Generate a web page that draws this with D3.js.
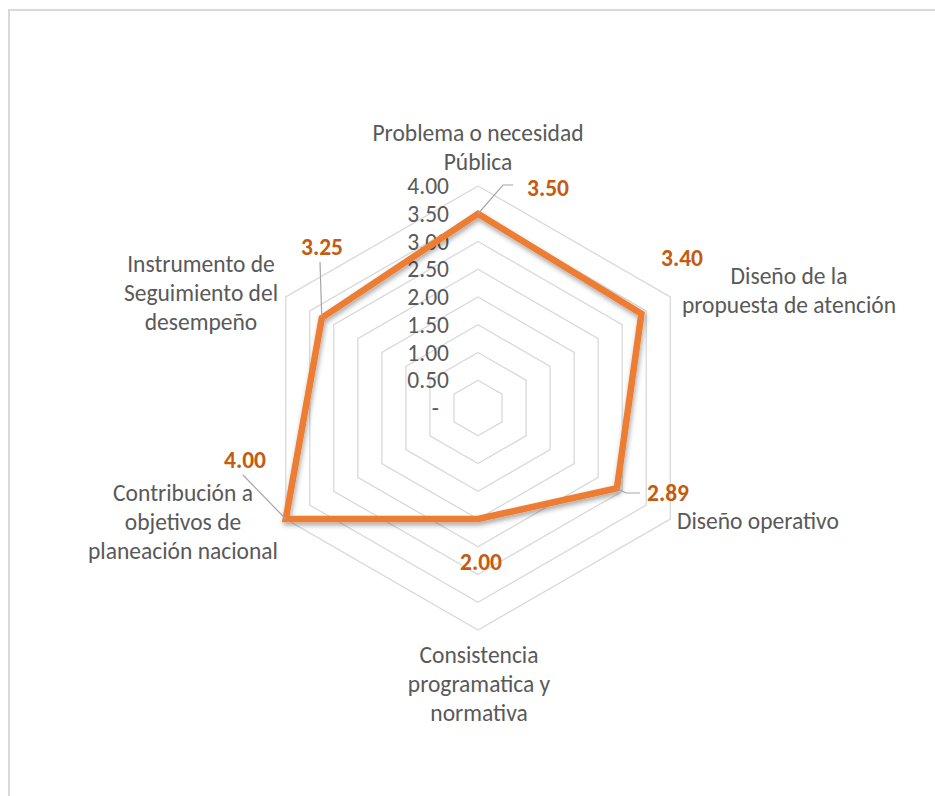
<!DOCTYPE html>
<html>
<head>
  <meta charset="utf-8">
  <script src="https://d3js.org/d3.v7.min.js"></script>
  <style>
    body { margin: 0; background: #fff; }
    text { font-family: Carlito, Lato, "Liberation Sans", sans-serif; }
  </style>
</head>
<body>
  <svg id="graph" width="935" height="796"></svg>
  <script>
    // chart values
    var categories = [
      ["Problema o necesidad", "Pública"],
      ["Diseño de la", "propuesta de atención"],
      ["Diseño operativo"],
      ["Consistencia", "programatica y", "normativa"],
      ["Contribución a", "objetivos de", "planeación nacional"],
      ["Instrumento de", "Seguimiento del", "desempeño"]
    ];
    var values = [3.50, 3.40, 2.89, 2.00, 4.00, 3.25];
    var tickValues = [0, 0.5, 1, 1.5, 2, 2.5, 3, 3.5, 4];
    var tickLabels = ["-", "0.50", "1.00", "1.50", "2.00", "2.50", "3.00", "3.50", "4.00"];

    // layout (where Excel put the labels)
    var cx = 478, cy = 408, R = 222;
    var fs = 23.5;
    var catPos = [
      { x: 478, y: 133, a: "middle" },
      { x: 789, y: 276, a: "middle" },
      { x: 677, y: 521, a: "start" },
      { x: 479, y: 655, a: "middle" },
      { x: 183, y: 493, a: "middle" },
      { x: 201, y: 264, a: "middle" }
    ];
    var lblPos = [[548, 188], [682, 258], [668, 493], [481, 562], [245, 460], [322, 247]];
    // leader line bends, from the label side towards the point
    var leaders = [
      [[513, 185], [503, 185]],
      null,
      [[640, 493], [626, 493]],
      null,
      [[243, 475]],
      [[320, 262]]
    ];

    var svg = d3.select("#graph");
    var defs = svg.append("defs");
    var f = defs.append("filter").attr("id", "shadow")
        .attr("x", "-10%").attr("y", "-10%").attr("width", "120%").attr("height", "120%");
    f.append("feDropShadow").attr("dx", 1).attr("dy", 3).attr("stdDeviation", 2.5)
        .attr("flood-color", "#000").attr("flood-opacity", 0.35);

    svg.append("rect").attr("x", 9).attr("y", 10).attr("width", 1000).attr("height", 900)
        .attr("fill", "none").attr("stroke", "#d9d9d9").attr("stroke-width", 2);

    var r = d3.scaleLinear().domain([0, 4]).range([0, R]);
    var n = categories.length;
    var ang = d3.scaleLinear().domain([0, n]).range([0, 2 * Math.PI]);
    var pt = (i, v) => [cx + r(v) * Math.sin(ang(i)), cy - r(v) * Math.cos(ang(i))];

    var g = svg.append("g");
    // rings
    g.selectAll(".ring").data(tickValues.filter(d => d > 0)).enter()
      .append("path").attr("class", "ring")
      .attr("d", v => d3.line()(d3.range(n).map(i => pt(i, v))) + "Z")
      .attr("fill", "none").attr("stroke", "#d9d9d9").attr("stroke-width", 1.3);

    // value axis labels
    g.selectAll(".tick").data(tickValues).enter()
      .append("text").attr("class", "tick")
      .attr("x", (d, i) => i === 0 ? 439 : 449)
      .attr("y", d => cy - r(d))
      .attr("dy", "0.35em")
      .attr("text-anchor", "end")
      .attr("font-size", fs).attr("fill", "#595959")
      .text((d, i) => tickLabels[i]);

    // series line
    g.append("path")
      .attr("d", d3.line()(values.map((v, i) => pt(i, v))) + "Z")
      .attr("fill", "none").attr("stroke", "#ed7d31").attr("stroke-width", 6.5)
      .attr("stroke-linejoin", "miter").attr("filter", "url(#shadow)");

    // leader lines
    values.forEach((v, i) => {
      if (!leaders[i]) return;
      var p = pt(i, v);
      var pts = [p].concat(leaders[i].slice().reverse());
      g.append("path").attr("d", d3.line()(pts))
        .attr("fill", "none").attr("stroke", "#a6a6a6").attr("stroke-width", 1.2);
    });

    // data labels
    g.selectAll(".dl").data(values).enter()
      .append("text").attr("class", "dl")
      .attr("x", (d, i) => lblPos[i][0]).attr("y", (d, i) => lblPos[i][1])
      .attr("dy", "0.35em").attr("text-anchor", "middle")
      .attr("font-size", fs).attr("font-weight", "bold").attr("fill", "#c55a11")
      .text(d => d.toFixed(2));

    // category labels
    categories.forEach((lines, i) => {
      var t = g.append("text")
        .attr("text-anchor", catPos[i].a)
        .attr("font-size", fs).attr("fill", "#595959");
      lines.forEach((s, j) => {
        t.append("tspan").attr("x", catPos[i].x)
          .attr("y", catPos[i].y + j * 29).attr("dy", "0.35em").text(s);
      });
    });
  </script>
</body>
</html>
